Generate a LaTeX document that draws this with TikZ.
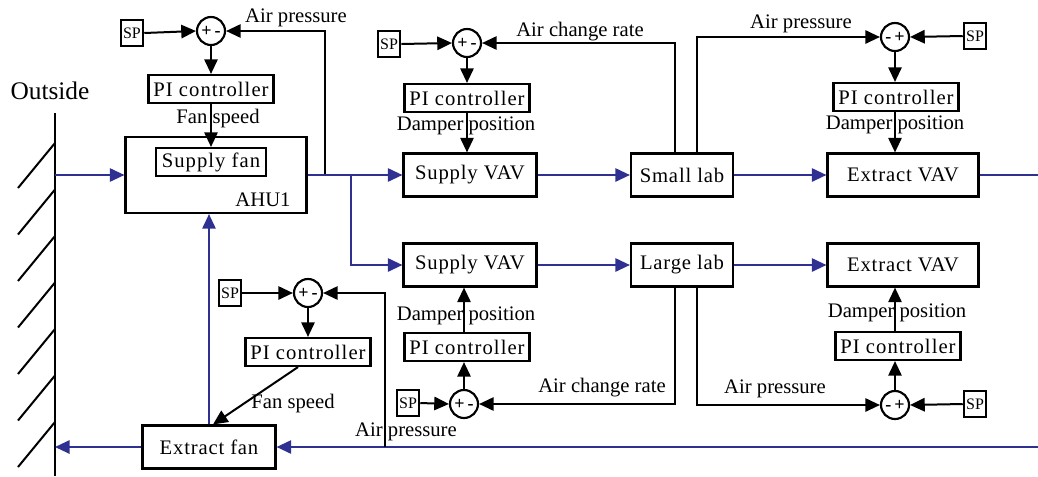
\documentclass[tikz,border=0pt]{standalone}
\usepackage{fontspec}
\setmainfont{Liberation Serif}
\usetikzlibrary{arrows.meta}
\definecolor{duct}{RGB}{46,49,146}
\begin{document}
\begin{tikzpicture}[x=0.75pt,y=-0.75pt,
  font=\fontsize{15.5}{18}\selectfont,
  box/.style={draw,line width=1.6pt,inner sep=0pt,minimum height=32.25pt,font=\fontsize{15.5}{18}\selectfont\addfontfeatures{LetterSpace=4}},
  pibox/.style={draw,line width=1.6pt,inner sep=0pt,minimum width=93.75pt,minimum height=21pt,font=\fontsize{15.5}{18}\selectfont\addfontfeatures{LetterSpace=5}},
  spbox/.style={draw,line width=1.4pt,inner sep=0pt,minimum width=17pt,minimum height=19.5pt,font=\fontsize{12}{12}\selectfont},
  sum/.style={draw,circle,line width=1.6pt,inner sep=0pt,minimum size=21pt,font=\fontsize{13.5}{13.5}\selectfont\bfseries},
  lbl/.style={inner sep=0pt},
  ctl/.style={line width=1.5pt,-{Triangle[length=11pt,width=10pt]}},
  duct/.style={draw=duct,line width=1.5pt,-{Triangle[length=11pt,width=10pt]}},
  ductline/.style={draw=duct,line width=1.5pt}]
\useasboundingbox (0,0) rectangle (1038,476);

% wall
\coordinate (wtop) at (55,113);
\coordinate (wbot) at (55,476);
\draw[line width=1.5pt] (wtop) -- (wbot);
\foreach \k in {0,...,6}{
  \draw[line width=1.5pt] (55,143+46.5*\k) -- (18,188+46.5*\k);
}
\node[lbl,font=\fontsize{19}{22}\selectfont] (outside) at (50,91) {Outside};

% AHU1
\node[draw,line width=1.6pt,minimum width=135.75pt,minimum height=57pt] (ahu) at (216,175) {};
\node[draw,line width=1.6pt,inner sep=0pt,minimum width=82.5pt,minimum height=21pt,font=\fontsize{15.5}{18}\selectfont\addfontfeatures{LetterSpace=5}] (sfan) at (211,162) {Supply fan};
\node[lbl] (ahulbl) at (263,200) {AHU1};

% top-left loop
\node[spbox] (sp1) at (132,33) {SP};
\node[sum] (s1) at (211,31) {+\,-};
\node[pibox] (pi1) at (211,89) {PI controller};
\node[lbl] (l1) at (218,119) {Fan speed};
\node[lbl] (l2) at (296,18) {Air pressure};
\coordinate (j1) at (325,175);
\draw[ctl] (sp1.east) -- (s1.west);
\draw[ctl] (j1) |- (s1.east);
\draw[ctl] (s1.south) -- (pi1.north);
\draw[ctl] (pi1.south) -- (sfan.north);

% supply branch top
\node[box,minimum width=99.75pt] (sv1) at (470,175) {Supply VAV};
\node[box,minimum width=76.5pt] (slab) at (682,175) {Small lab};
\node[box,minimum width=113.25pt] (ev1) at (903,175) {Extract VAV};
\coordinate (win) at (55,175);
\coordinate (br) at (351,175);
\coordinate (eout) at (1038,175);
\draw[duct] (win) -- (ahu.west);
\draw[duct] (ahu.east) -- (sv1.west);
\draw[duct] (sv1.east) -- (slab.west);
\draw[duct] (slab.east) -- (ev1.west);
\draw[ductline] (ev1.east) -- (eout);

\node[spbox] (sp2) at (389,44) {SP};
\node[sum] (s2) at (467,43) {+\,-};
\node[pibox] (pi2) at (467,98) {PI controller};
\node[lbl] (l3) at (466,126) {Damper position};
\node[lbl] (l4) at (580,32) {Air change rate};
\draw[ctl] (sp2.east) -- (s2.west);
\draw[ctl] ([xshift=-5.25pt]slab.north) |- (s2.east);
\draw[ctl] (s2.south) -- (pi2.north);
\draw[ctl] (pi2.south) -- (pi2.south |- sv1.north);

\node[spbox] (sp3) at (975,36) {SP};
\node[sum] (s3) at (895,37) {-\,+};
\node[pibox] (pi3) at (896,97) {PI controller};
\node[lbl] (l5) at (895,125) {Damper position};
\node[lbl] (l6) at (801,24) {Air pressure};
\draw[ctl] (sp3.west) -- (s3.east);
\draw[ctl] ([xshift=11.25pt]slab.north) |- (s3.west);
\draw[ctl] (s3.south) -- (s3.south |- pi3.north);
\draw[ctl] (s3 |- pi3.south) -- (s3 |- ev1.north);

% supply branch bottom
\node[box,minimum width=99.75pt] (sv2) at (470,265) {Supply VAV};
\node[box,minimum width=76.5pt] (llab) at (682,265) {Large lab};
\node[box,minimum width=113.25pt] (ev2) at (903,265) {Extract VAV};
\draw[duct] (br) |- (sv2.west);
\draw[duct] (sv2.east) -- (llab.west);
\draw[duct] (llab.east) -- (ev2.west);

\node[spbox] (sp4) at (408,403) {SP};
\node[sum] (s4) at (464,404) {+\,-};
\node[pibox] (pi4) at (467,347) {PI controller};
\node[lbl] (l7) at (466,316) {Damper position};
\node[lbl] (l8) at (602,388) {Air change rate};
\draw[ctl] (sp4.east) -- (s4.west);
\draw[ctl] ([xshift=-5.25pt]llab.south) |- (s4.east);
\draw[ctl] (s4.north) -- (s4.north |- pi4.south);
\draw[ctl] (s4 |- pi4.north) -- (s4 |- sv2.south);

\node[spbox] (sp6) at (975,404) {SP};
\node[sum] (s6) at (895,405) {-\,+};
\node[pibox] (pi6) at (898,346) {PI controller};
\node[lbl] (l9) at (897,313) {Damper position};
\node[lbl] (l10) at (775,389) {Air pressure};
\draw[ctl] (sp6.west) -- (s6.east);
\draw[ctl] ([xshift=11.25pt]llab.south) |- (s6.west);
\draw[ctl] (s6.north) -- (s6.north |- pi6.south);
\draw[ctl] (s6 |- pi6.north) -- (s6 |- ev2.south);

% extract fan loop
\node[box,minimum width=99.75pt] (ef) at (209,447) {Extract fan};
\coordinate (dR) at (1038,447);
\coordinate (wout) at (55,447);
\coordinate (f5) at (385,447);
\draw[duct] (dR) -- (ef.east);
\draw[duct] (ef.west) -- (wout);
\draw[duct] (ef.north) -- (ef.north |- ahu.south);

\node[spbox] (sp5) at (230,293) {SP};
\node[sum] (s5) at (308,293) {+\,-};
\node[pibox] (pi5) at (308,352) {PI controller};
\node[lbl] (l11) at (293,404) {Fan speed};
\node[lbl] (l12) at (406,432) {Air pressure};
\draw[ctl] (sp5.east) -- (s5.west);
\draw[ctl] (f5) |- (s5.east);
\draw[ctl] (s5.south) -- (pi5.north);
\draw[ctl] ([xshift=-7.5pt]pi5.south) -- ([xshift=3pt]ef.north);
\end{tikzpicture}
\end{document}
